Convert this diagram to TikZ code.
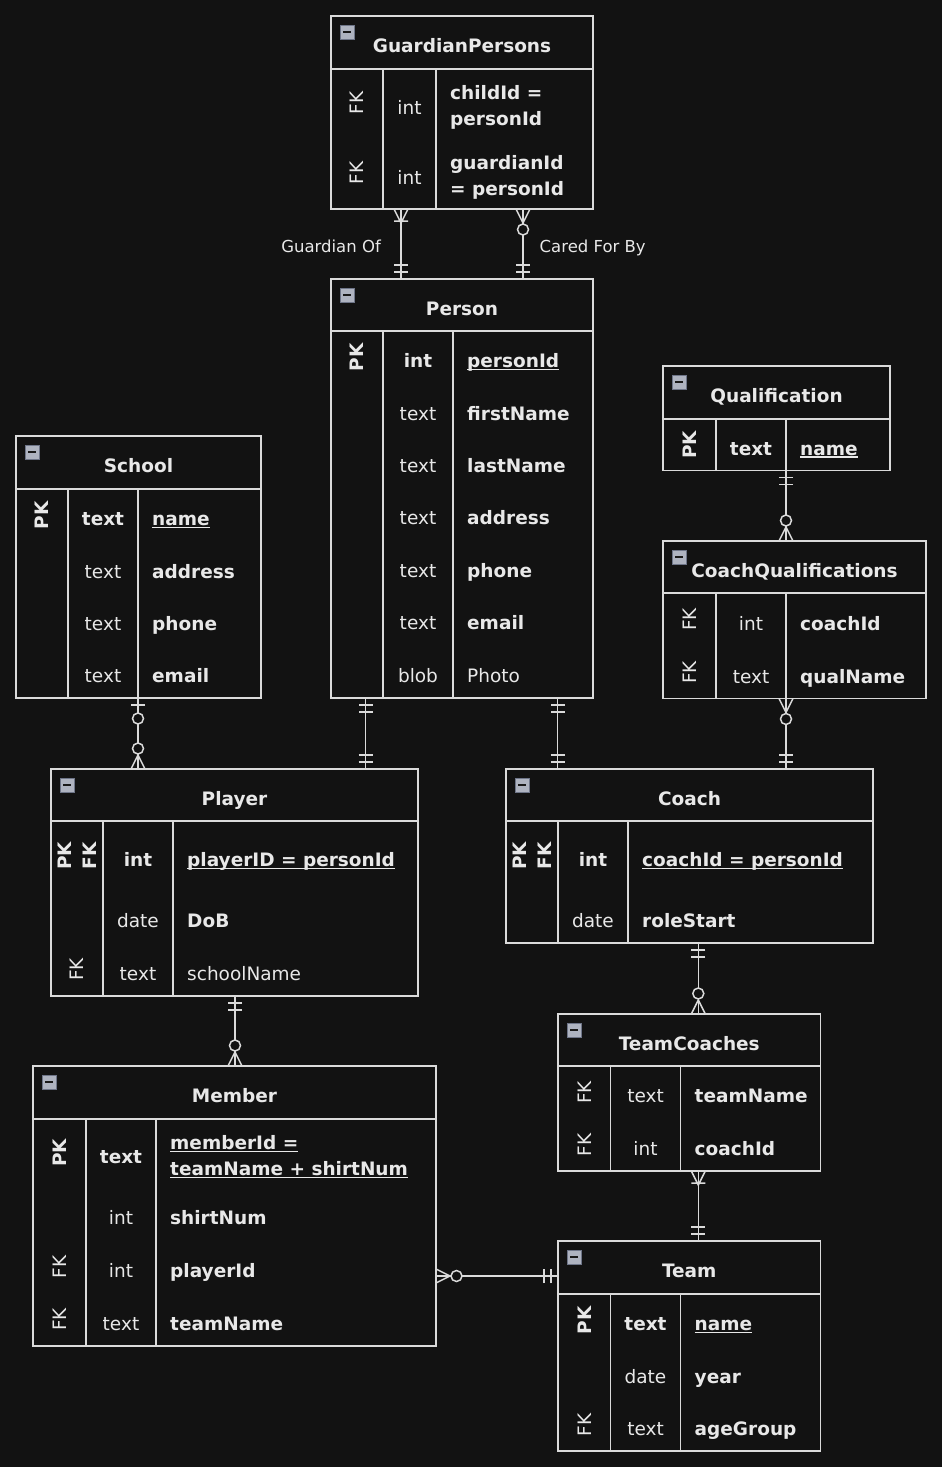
\documentclass[tikz,border=0pt]{standalone}
\usepackage{fontspec}
\setmainfont{DejaVu Sans}
\definecolor{bg}{HTML}{121212}
\definecolor{fg}{HTML}{E8E8E8}
\definecolor{ln}{HTML}{DADADA}
\definecolor{iconfill}{HTML}{AEB3C0}
\definecolor{iconedge}{HTML}{6E7588}
\newcommand\ulx[1]{\setbox0\hbox{#1}\rlap{\rule[-2.3pt]{\wd0}{1.3pt}}\box0}
\newcommand\fnt{\fontsize{18.5}{22}\selectfont}
\tikzset{
  tbox/.style={draw=ln, line width=1.5pt, fill=bg, inner sep=0pt, outer sep=0pt},
  conn/.style={draw=ln, line width=1.5pt},
  ttl/.style={font=\fnt\bfseries, text=fg, anchor=base, inner sep=0pt},
  keyb/.style={font=\fnt\bfseries, text=fg, rotate=90, inner sep=0pt},
  keyr/.style={font=\fnt, text=fg, rotate=90, inner sep=0pt},
  typb/.style={font=\fnt\bfseries, text=fg, anchor=base, inner sep=0pt},
  typr/.style={font=\fnt, text=fg, anchor=base, inner sep=0pt},
  namb/.style={font=\fnt\bfseries, text=fg, anchor=base west, inner sep=0pt},
  namr/.style={font=\fnt, text=fg, anchor=base west, inner sep=0pt},
  lbl/.style={font=\fontsize{16.5}{20}\selectfont, text=fg, inner sep=0pt},
  mandone/.pic={\draw[conn] (7,-7)--(7,7) (14,-7)--(14,7);},
  zeroone/.pic={\draw[conn] (7,-7)--(7,7); \draw[conn,fill=bg] (20.5,0) circle[radius=5.5];},
  onemany/.pic={\draw[conn] (0,-7)--(14,0)--(0,7) (12,-7)--(12,7);},
  zeromany/.pic={\draw[conn] (0,-7)--(14,0)--(0,7); \draw[conn,fill=bg] (20.5,0) circle[radius=5.5];}
}
% name, x1, y1, x2, y2, header bottom, col1, col2, title
\newcommand\ertable[9]{%
  \node[tbox, anchor=north west, minimum width={(#4-#2)*1pt}, minimum height={(#5-#3)*1pt}] (#1) at (#2,#3) {};
  \draw[conn] (#2,#6) -- (#4,#6) (#7,#6) -- (#7,#5) (#8,#6) -- (#8,#5);
  \draw[draw=iconedge, fill=iconfill, line width=0.8pt] ({#2+9},{#3+9}) rectangle ({#2+23},{#3+23});
  \draw[draw=black!90, line width=1.8pt] ({#2+12},{#3+16}) -- ({#2+20},{#3+16});
  \node[ttl] (#1-title) at ({(#2+#4)/2},{#3+36.5}) {#9};
  \def\kx{(#2+#7)/2}\def\tx{(#7+#8)/2}\def\nx{#8+14}%
}
\newcommand\rowk[4]{\node[#3] (#1) at ({\kx},{#2}) {#4};}
\newcommand\rowkk[2]{\node[keyb] (#1a) at ({\kx-12},{#2}) {PK};\node[keyb] (#1b) at ({\kx+13},{#2}) {FK};}
\newcommand\rowt[4]{\node[#3] (#1) at ({\tx},{#2+10.5}) {#4};}
\newcommand\rown[4]{\node[#3] (#1) at ({\nx},{#2+10.5}) {#4};}
\newcommand\rel[6]{\draw[conn] #1 -- #2; \pic[rotate=#4] at #1 {#3}; \pic[rotate=#6] at #2 {#5};}
\begin{document}
\begin{tikzpicture}[x=1pt, y=-1pt]
\fill[bg] (0,0) rectangle (942,1467);
\useasboundingbox (0,0) rectangle (942,1467);

% GuardianPersons
\ertable{gp}{331}{16}{593}{209}{69}{383}{436}{GuardianPersons}
\rowk{gp1k}{103}{keyr}{FK}\rowt{gp1t}{104}{typr}{int}
\rown{gp1n}{89}{namb}{childId =}\rown{gp1m}{115}{namb}{personId}
\rowk{gp2k}{173}{keyr}{FK}\rowt{gp2t}{174}{typr}{int}
\rown{gp2n}{159}{namb}{guardianId}\rown{gp2m}{185}{namb}{= personId}

% Person
\ertable{person}{331}{279}{593}{698}{331}{383}{453}{Person}
\rowk{p1k}{357.2}{keyb}{PK}\rowt{p1t}{357.2}{typb}{int}\rown{p1n}{357.2}{namb}{\ulx{personId}}
\rowt{p2t}{409.6}{typr}{text}\rown{p2n}{409.6}{namb}{firstName}
\rowt{p3t}{462}{typr}{text}\rown{p3n}{462}{namb}{lastName}
\rowt{p4t}{514.4}{typr}{text}\rown{p4n}{514.4}{namb}{address}
\rowt{p5t}{566.8}{typr}{text}\rown{p5n}{566.8}{namb}{phone}
\rowt{p6t}{619.2}{typr}{text}\rown{p6n}{619.2}{namb}{email}
\rowt{p7t}{671.6}{typr}{blob}\rown{p7n}{671.6}{namr}{Photo}

% School
\ertable{school}{16}{436}{261}{698}{489}{68}{138}{School}
\rowk{s1k}{515.2}{keyb}{PK}\rowt{s1t}{515.2}{typb}{text}\rown{s1n}{515.2}{namb}{\ulx{name}}
\rowt{s2t}{567.5}{typr}{text}\rown{s2n}{567.5}{namb}{address}
\rowt{s3t}{619.8}{typr}{text}\rown{s3n}{619.8}{namb}{phone}
\rowt{s4t}{672.1}{typr}{text}\rown{s4n}{672.1}{namb}{email}

% Qualification
\ertable{qual}{663}{366}{890}{470.5}{419}{716}{786}{Qualification}
\rowk{q1k}{444.8}{keyb}{PK}\rowt{q1t}{444.8}{typb}{text}\rown{q1n}{444.8}{namb}{\ulx{name}}

% CoachQualifications
\ertable{cq}{663}{541}{926}{698.5}{593}{716}{786}{CoachQualifications}
\rowk{cq1k}{619.5}{keyr}{FK}\rowt{cq1t}{619.5}{typr}{int}\rown{cq1n}{619.5}{namb}{coachId}
\rowk{cq2k}{672.5}{keyr}{FK}\rowt{cq2t}{672.5}{typr}{text}\rown{cq2n}{672.5}{namb}{qualName}

% Player
\ertable{player}{51}{769}{418}{996}{821}{103}{173}{Player}
\rowkk{pl1}{856}\rowt{pl1t}{856}{typb}{int}\rown{pl1n}{856}{namb}{\ulx{playerID = personId}}
\rowt{pl2t}{917}{typr}{date}\rown{pl2n}{917}{namb}{DoB}
\rowk{pl3k}{969.5}{keyr}{FK}\rowt{pl3t}{969.5}{typr}{text}\rown{pl3n}{969.5}{namr}{schoolName}

% Coach
\ertable{coach}{506}{769}{873}{943}{821}{558}{628}{Coach}
\rowkk{c1}{856}\rowt{c1t}{856}{typb}{int}\rown{c1n}{856}{namb}{\ulx{coachId = personId}}
\rowt{c2t}{916.5}{typr}{date}\rown{c2n}{916.5}{namb}{roleStart}

% TeamCoaches
\ertable{tc}{558}{1014}{820.5}{1171}{1066}{610.5}{680.5}{TeamCoaches}
\rowk{tc1k}{1092.3}{keyr}{FK}\rowt{tc1t}{1092.3}{typr}{text}\rown{tc1n}{1092.3}{namb}{teamName}
\rowk{tc2k}{1144.8}{keyr}{FK}\rowt{tc2t}{1144.8}{typr}{int}\rown{tc2n}{1144.8}{namb}{coachId}

% Member
\ertable{member}{33}{1066}{436}{1346}{1119}{86}{156}{Member}
\rowk{m1k}{1153}{keyb}{PK}\rowt{m1t}{1152.5}{typb}{text}
\rown{m1n}{1139}{namb}{\ulx{memberId =}}\rown{m1m}{1165}{namb}{\ulx{teamName + shirtNum}}
\rowt{m2t}{1214}{typr}{int}\rown{m2n}{1214}{namb}{shirtNum}
\rowk{m3k}{1267}{keyr}{FK}\rowt{m3t}{1267}{typr}{int}\rown{m3n}{1267}{namb}{playerId}
\rowk{m4k}{1319.5}{keyr}{FK}\rowt{m4t}{1319.5}{typr}{text}\rown{m4n}{1319.5}{namb}{teamName}

% Team
\ertable{team}{558}{1241}{820.5}{1451}{1294}{610.5}{680.5}{Team}
\rowk{t1k}{1320.2}{keyb}{PK}\rowt{t1t}{1320.2}{typb}{text}\rown{t1n}{1320.2}{namb}{\ulx{name}}
\rowt{t2t}{1372.5}{typr}{date}\rown{t2n}{1372.5}{namb}{year}
\rowk{t3k}{1424.8}{keyr}{FK}\rowt{t3t}{1424.8}{typr}{text}\rown{t3n}{1424.8}{namb}{ageGroup}

% helper coordinates for connector lines
\coordinate (xgo) at (401,0);
\coordinate (xcf) at (523,0);
\coordinate (xsp) at (138,0);
\coordinate (xpp) at (365.5,0);
\coordinate (xpc) at (557.5,0);
\coordinate (xq) at (786,0);
\coordinate (xct) at (698.3,0);
\coordinate (xpm) at (235,0);
\coordinate (ymt) at (0,1276);

\rel{(gp.south -| xgo)}{(person.north -| xgo)}{onemany}{-90}{mandone}{90}
\rel{(gp.south -| xcf)}{(person.north -| xcf)}{zeromany}{-90}{mandone}{90}
\rel{(school.south -| xsp)}{(player.north -| xsp)}{zeroone}{-90}{zeromany}{90}
\rel{(person.south -| xpp)}{(player.north -| xpp)}{mandone}{-90}{mandone}{90}
\rel{(person.south -| xpc)}{(coach.north -| xpc)}{mandone}{-90}{mandone}{90}
\rel{(qual.south -| xq)}{(cq.north -| xq)}{mandone}{-90}{zeromany}{90}
\rel{(cq.south -| xq)}{(coach.north -| xq)}{zeromany}{-90}{mandone}{90}
\rel{(coach.south -| xct)}{(tc.north -| xct)}{mandone}{-90}{zeromany}{90}
\rel{(tc.south -| xct)}{(team.north -| xct)}{onemany}{-90}{mandone}{90}
\rel{(player.south -| xpm)}{(member.north -| xpm)}{mandone}{-90}{zeromany}{90}
\rel{(member.east |- ymt)}{(team.west |- ymt)}{zeromany}{0}{mandone}{180}

\node[lbl, anchor=base east] (lgo) at (381,252) {Guardian Of};
\node[lbl, anchor=base west] (lcf) at (539.5,252) {Cared For By};
\end{tikzpicture}
\end{document}
